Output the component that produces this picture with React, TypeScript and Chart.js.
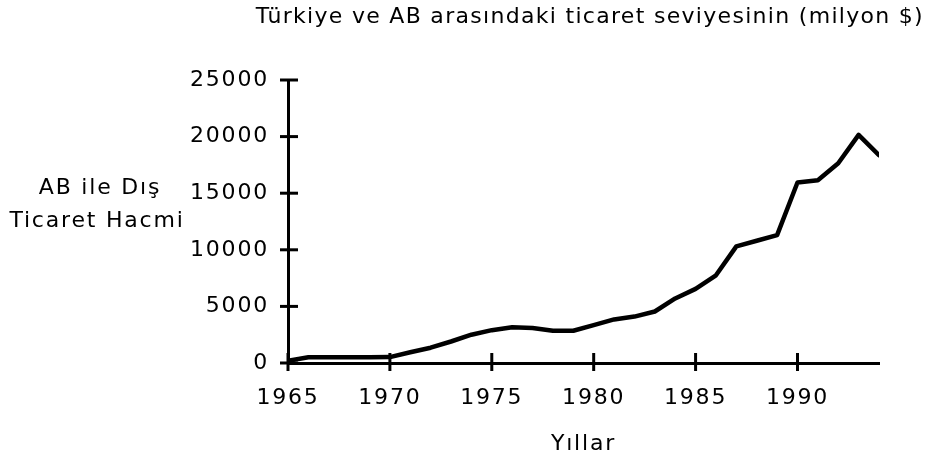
import React, { useEffect, useRef } from "react";
import { Chart, registerables } from "chart.js";

Chart.register(...registerables);

const years = [
  1965, 1966, 1967, 1968, 1969, 1970, 1971, 1972, 1973, 1974,
  1975, 1976, 1977, 1978, 1979, 1980, 1981, 1982, 1983, 1984,
  1985, 1986, 1987, 1988, 1989, 1990, 1991, 1992, 1993, 1994,
];
const tradeVolume = [
  200, 500, 500, 500, 500, 520, 950, 1350, 1900, 2500,
  2900, 3150, 3100, 2850, 2850, 3350, 3850, 4100, 4550, 5700,
  6550, 7750, 10300, 10800, 11300, 15950, 16150, 17650, 20150, 18350,
];
const xTickValues = [1965, 1970, 1975, 1980, 1985, 1990];
const yTickValues = [0, 5000, 10000, 15000, 20000, 25000];
const chartTitle = "Türkiye ve AB arasındaki ticaret seviyesinin (milyon $)";
const yTitleLines = ["AB ile Dış", "Ticaret Hacmi"];
const xTitle = "Yıllar";

const FONT_FAMILY = '"DejaVu Sans", sans-serif';
const LETTER_SPACING = "1.8px";
const TITLE_SPACING = "1.3px";

const setSpacing = (chart: any) => {
  try {
    chart.ctx.letterSpacing = LETTER_SPACING;
  } catch (e) {}
};

const decorPlugin = {
  id: "decor",
  beforeUpdate(chart: any) {
    setSpacing(chart);
  },
  beforeLayout(chart: any) {
    setSpacing(chart);
  },
  beforeDraw(chart: any) {
    setSpacing(chart);
  },
  afterDraw(chart: any) {
    const ctx = chart.ctx;
    const { left, bottom } = chart.chartArea;
    const xs = chart.scales.x;
    const ys = chart.scales.y;
    ctx.save();
    ctx.strokeStyle = "#000";
    ctx.lineWidth = 3;
    ctx.lineCap = "butt";
    // crossing tick marks on y axis
    yTickValues.forEach((v) => {
      const py = ys.getPixelForValue(v);
      ctx.beginPath();
      ctx.moveTo(left - 8, py);
      ctx.lineTo(left + 10, py);
      ctx.stroke();
    });
    // crossing tick marks on x axis
    xTickValues.forEach((v) => {
      const px = xs.getPixelForValue(v);
      ctx.beginPath();
      ctx.moveTo(px, bottom - 10);
      ctx.lineTo(px, bottom + 8);
      ctx.stroke();
    });
    ctx.fillStyle = "#000";
    ctx.font = `22px ${FONT_FAMILY}`;
    // top title
    ctx.letterSpacing = TITLE_SPACING;
    ctx.textAlign = "right";
    ctx.textBaseline = "alphabetic";
    ctx.fillText(chartTitle, 924, 23);
    // horizontal y-axis title, two lines
    ctx.letterSpacing = LETTER_SPACING;
    ctx.textAlign = "center";
    ctx.textBaseline = "alphabetic";
    ctx.fillText(yTitleLines[0], 100, 194);
    ctx.fillText(yTitleLines[1], 97, 227);
    ctx.restore();
  },
};

export default function App() {
  const canvasRef = useRef<HTMLCanvasElement | null>(null);

  useEffect(() => {
    document.body.style.margin = "0";
    const canvas = canvasRef.current;
    if (!canvas) return;
    const tickFont = { family: FONT_FAMILY, size: 22 };
    const chart = new Chart(canvas, {
      type: "line",
      data: {
        datasets: [
          {
            data: years.map((yr, i) => ({ x: yr, y: tradeVolume[i] })),
            borderColor: "#000",
            borderWidth: 4.5,
            pointRadius: 0,
            tension: 0,
            fill: false,
            borderCapStyle: "round",
            borderJoinStyle: "round",
          },
        ],
      },
      options: {
        animation: false,
        responsive: false,
        devicePixelRatio: 1,
        layout: { padding: { top: 80, right: 48, bottom: 0, left: 0 } },
        plugins: {
          legend: { display: false },
          title: { display: false },
          tooltip: { enabled: false },
        },
        scales: {
          x: {
            type: "linear",
            min: 1965,
            max: 1994,
            afterBuildTicks: (s: any) => {
              s.ticks = xTickValues.map((v) => ({ value: v }));
            },
            afterFit: (s: any) => {
              s.height = 97;
            },
            grid: { display: false, drawTicks: false },
            border: { display: true, color: "#000", width: 3 },
            ticks: {
              color: "#000",
              font: tickFont,
              padding: 22,
              maxRotation: 0,
              autoSkip: false,
              callback: (v: any) => String(v),
            },
            title: {
              display: true,
              text: xTitle,
              color: "#000",
              font: tickFont,
              padding: { top: 0, bottom: 3 },
            },
          },
          y: {
            type: "linear",
            min: 0,
            max: 25000,
            afterBuildTicks: (s: any) => {
              s.ticks = yTickValues.map((v) => ({ value: v }));
            },
            afterFit: (s: any) => {
              s.width = 288;
            },
            grid: { display: false, drawTicks: false },
            border: { display: true, color: "#000", width: 3 },
            ticks: {
              color: "#000",
              font: tickFont,
              padding: 19,
              callback: (v: any) => String(v),
            },
          },
        },
      },
      plugins: [decorPlugin],
    } as any);
    return () => chart.destroy();
  }, []);

  return (
    <div style={{ width: 927, height: 460, position: "relative", background: "#fff" }}>
      <canvas ref={canvasRef} width={927} height={460} style={{ display: "block" }} />
    </div>
  );
}
